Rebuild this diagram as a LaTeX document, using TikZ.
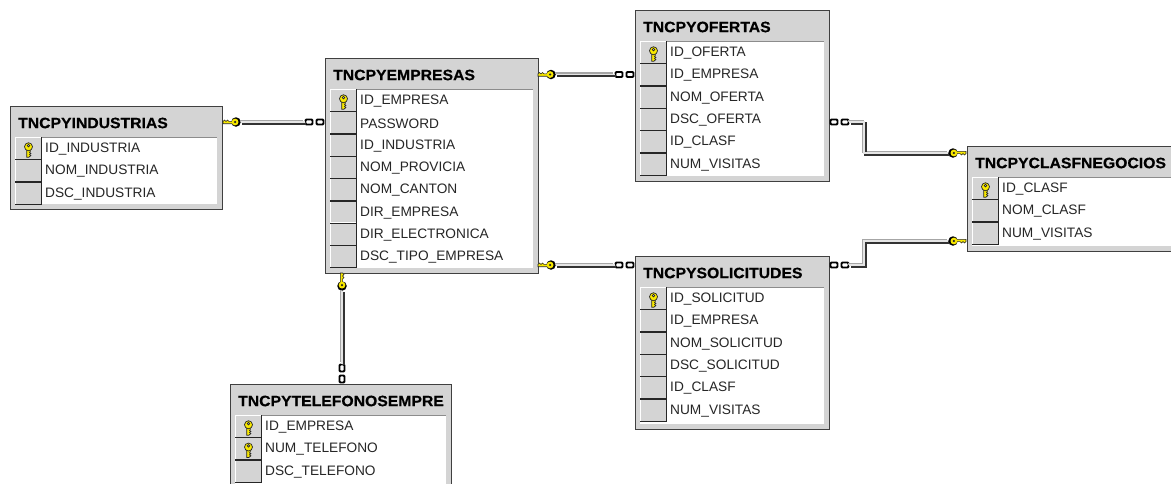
\documentclass[tikz,border=0pt]{standalone}
\usepackage{fontspec}
\setmainfont{Liberation Sans}
\newfontfamily\fuentetitulo[FakeStretch=1.05,FakeBold=0.5]{Liberation Sans Bold}
\definecolor{grisfondo}{HTML}{D4D4D4}
\definecolor{grisborde}{HTML}{404040}
\definecolor{amarillollave}{HTML}{F8E800}
\tikzset{
  caja/.style={draw=grisborde,fill=grisfondo,line width=1.3pt,inner sep=0pt,anchor=north west},
  panel/.style={draw=none,fill=white,inner sep=0pt,anchor=north west},
  celda/.style={fill=grisfondo,inner sep=0pt,anchor=north west,minimum width=26pt,minimum height=22.3pt},
  titulo/.style={anchor=west,inner sep=0pt,font=\fuentetitulo\fontsize{15}{16}\selectfont,text=black},
  campo/.style={anchor=west,inner sep=0pt,font=\fontsize{13.7}{16}\selectfont,text=black!85},
  bola/.style={circle,fill=black,minimum size=9.5pt,inner sep=0pt},
  eslabon/.style={draw=black,line width=1.8pt,fill=white,minimum width=7pt,minimum height=5pt,inner sep=0pt,rounded corners=1pt},
  relgris/.style={draw=black!35,line width=2.4pt,transform canvas={shift={(-1.3pt,1.3pt)}}},
  relosc/.style={draw=black!80,line width=2.4pt,transform canvas={shift={(1.3pt,-1.3pt)}}},
  relclaro/.style={draw=black!10,line width=1.6pt},
  llave/.pic={
    \draw[fill=amarillollave,draw=black!85,line width=0.7pt]
      (-1.8,0) -- (-1.8,8) -- (0.4,8) -- (2.4,6.4) -- (1,5.4) -- (2.4,4.2) -- (1,3.4) -- (1.8,2.4) -- (1.8,0) -- cycle;
    \draw[fill=amarillollave,draw=black!85,line width=0.7pt,even odd rule]
      (0,-2.4) circle (4) (0,-3.6) circle (1.3);
  },
  diente/.pic={
    \draw[fill=amarillollave,draw=black!85,line width=0.6pt]
      (2,-1.7) -- (13,-1.7) -- (13,0.6) -- (11.5,2) -- (10,0.6) -- (8.5,2) -- (7,0.6) -- (2,0.6) -- cycle;
    \fill[amarillollave] (0.9,0) circle (3.4);
    \fill[black!85] (0.9,0) circle (1.2);
  }
}
% tabla: nombre, x, y, ancho, alto, titulo, filas
\newcommand{\tabla}[7]{
  \node[caja,minimum width=#4pt,minimum height=#5pt] (#1) at (#2,#3) {};
  \node[panel,minimum width=#4pt-10pt,minimum height=#5pt-36pt] (#1panel) at ({#2+5},{#3+31}) {};
  \draw[black!45,line width=0.8pt] (#1panel.north west) -- (#1panel.north east);
  \node[titulo] (#1titulo) at ({#2+8},{#3+17}) {#6};
  \foreach \k/\txt [count=\i] in {#7} {
    \node[celda] (#1c\i) at ({#2+5},{#3+31+22.3*(\i-1)}) {};
    \draw[white,line width=0.8pt] (#1c\i.south west) -- (#1c\i.north west) -- (#1c\i.north east);
  }
  \foreach \k/\txt [count=\i] in {#7} {
    \draw[black!85,line width=1.3pt] (#1c\i.south west) -- (#1c\i.south east) -- (#1c\i.north east);
    \node[campo] (#1f\i) at ({#2+35},{#3+32+22.3*(\i-0.5)}) {\txt};
    \ifnum\k=1 \pic at ({#2+18.5},{#3+32+22.3*(\i-0.5)}) {llave}; \fi
  }
}
\newcommand{\relacion}[1]{
  \draw[relgris] #1;
  \draw[relosc] #1;
  \draw[relclaro] #1;
}
\begin{document}
\begin{tikzpicture}[x=1pt,y=-1pt]
  \useasboundingbox (0,0) rectangle (1171,483);
  \clip (0,0) rectangle (1171,483);

  % tablas
  \tabla{industrias}{10}{106}{212}{103}{TNCPYINDUSTRIAS}{1/ID\_INDUSTRIA,0/NOM\_INDUSTRIA,0/DSC\_INDUSTRIA}
  \tabla{empresas}{325}{58}{213}{215}{TNCPYEMPRESAS}{1/ID\_EMPRESA,0/PASSWORD,0/ID\_INDUSTRIA,0/NOM\_PROVICIA,0/NOM\_CANTON,0/DIR\_EMPRESA,0/DIR\_ELECTRONICA,0/DSC\_TIPO\_EMPRESA}
  \tabla{ofertas}{635}{10}{194}{171}{TNCPYOFERTAS}{1/ID\_OFERTA,0/ID\_EMPRESA,0/NOM\_OFERTA,0/DSC\_OFERTA,0/ID\_CLASF,0/NUM\_VISITAS}
  \tabla{solicitudes}{635}{256}{194}{173}{TNCPYSOLICITUDES}{1/ID\_SOLICITUD,0/ID\_EMPRESA,0/NOM\_SOLICITUD,0/DSC\_SOLICITUD,0/ID\_CLASF,0/NUM\_VISITAS}
  \tabla{clasf}{967}{146}{230}{105}{TNCPYCLASFNEGOCIOS}{1/ID\_CLASF,0/NOM\_CLASF,0/NUM\_VISITAS}
  \tabla{telefonos}{230}{384}{221}{140}{TNCPYTELEFONOSEMPRE}{1/ID\_EMPRESA,1/NUM\_TELEFONO,0/DSC\_TELEFONO}

  % llaves
  \node[bola] (kind) at (236,122) {};
  \pic[rotate=180] at (236,122) {diente};
  \node[bola] (kofe) at (551,74.5) {};
  \pic[rotate=180] at (551,74.5) {diente};
  \node[bola] (ksol) at (551,265) {};
  \pic[rotate=180] at (551,265) {diente};
  \node[bola] (kcl1) at (953,153) {};
  \pic[rotate=0] at (953,153) {diente};
  \node[bola] (kcl2) at (953,241) {};
  \pic[rotate=0] at (953,241) {diente};
  \node[bola] (ktel) at (342,286) {};
  \pic[rotate=90] at (342,286) {diente};

  % eslabones
  \node[eslabon] (oind) at (309,122) {};
  \node[eslabon] (oind2) at (320,122) {};
  \node[eslabon] (oofe) at (619,74.5) {};
  \node[eslabon] (oofe2) at (630,74.5) {};
  \node[eslabon] (osol) at (619,265) {};
  \node[eslabon] (osol2) at (630,265) {};
  \node[eslabon] (ocl1) at (845,122) {};
  \node[eslabon] (ocl12) at (834,122) {};
  \node[eslabon] (ocl2) at (845,265) {};
  \node[eslabon] (ocl22) at (834,265) {};
  \node[eslabon,minimum width=5pt,minimum height=7pt] (otel) at (342,368) {};
  \node[eslabon,minimum width=5pt,minimum height=7pt] (otel2) at (342,379) {};

  % relaciones
  \relacion{(kind) -- (oind)}
  \relacion{(kofe) -- (oofe)}
  \relacion{(ksol) -- (osol)}
  \relacion{(ktel) -- (otel)}
  \relacion{(ocl1) -| (864,153) -- (kcl1)}
  \relacion{(ocl2) -| (864,241) -- (kcl2)}
\end{tikzpicture}
\end{document}
